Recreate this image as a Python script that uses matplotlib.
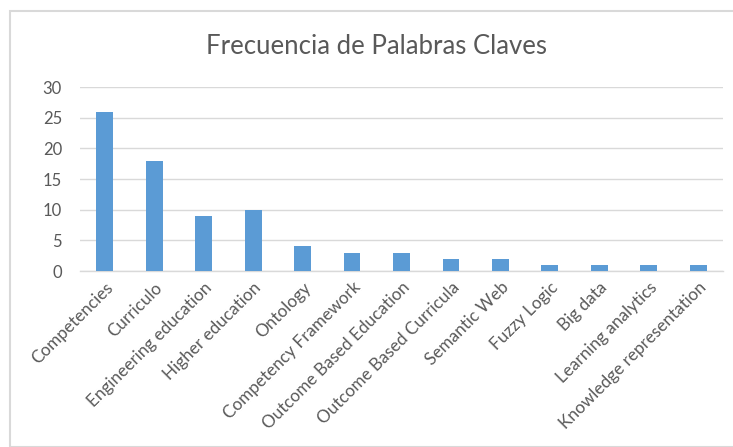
import matplotlib
matplotlib.use("Agg")
import matplotlib.pyplot as plt
from matplotlib.patches import Rectangle

categories = ["Competencies", "Curriculo", "Engineering education", "Higher education",
              "Ontology", "Competency Framework", "Outcome Based Education",
              "Outcome Based Curricula", "Semantic Web", "Fuzzy Logic", "Big data",
              "Learning analytics", "Knowledge representation"]
values = [26, 18, 9, 10, 4, 3, 3, 2, 2, 1, 1, 1, 1]
yticks = [0, 5, 10, 15, 20, 25, 30]
title = "Frecuencia de Palabras Claves"

plt.rcParams['font.family'] = ['Lato', 'DejaVu Sans']
W, H = 733, 447
fig = plt.figure(figsize=(W / 100, H / 100), dpi=100)
fig.patch.set_facecolor('white')

# chart border
fig.patches.append(Rectangle((10 / W, 0), 1.0, 1 - 11 / H, transform=fig.transFigure,
                             fill=False, edgecolor='#D9D9D9', linewidth=1.5, clip_on=False))

ax = fig.add_axes([80 / W, 1 - 271 / H, (723 - 80) / W, (271 - 87) / H])
x = list(range(len(categories)))
ax.bar(x, values, width=0.34, color='#5B9BD5', zorder=3)
ax.set_xlim(-0.5, len(categories) - 0.5)
ax.set_ylim(0, 30)
ax.set_yticks(yticks)
ax.set_yticklabels([str(v) for v in yticks], fontsize=12, color='#595959')
ax.set_xticks(x)
ax.set_xticklabels(categories, rotation=45, ha='right', va='top', rotation_mode='anchor',
                   fontsize=12.3, color='#595959')
ax.tick_params(axis='both', length=0)
ax.tick_params(axis='y', pad=13)
ax.tick_params(axis='x', pad=6)
ax.grid(axis='y', color='#D9D9D9', linewidth=1, zorder=0)
for s in ['top', 'right', 'left']:
    ax.spines[s].set_visible(False)
ax.spines['bottom'].set_color('#D9D9D9')
ax.spines['bottom'].set_linewidth(1)

fig.text(376 / W, 1 - 47 / H, title, ha='center', va='center', fontsize=18.5, color='#595959')

fig.savefig('out.png', dpi=100)
